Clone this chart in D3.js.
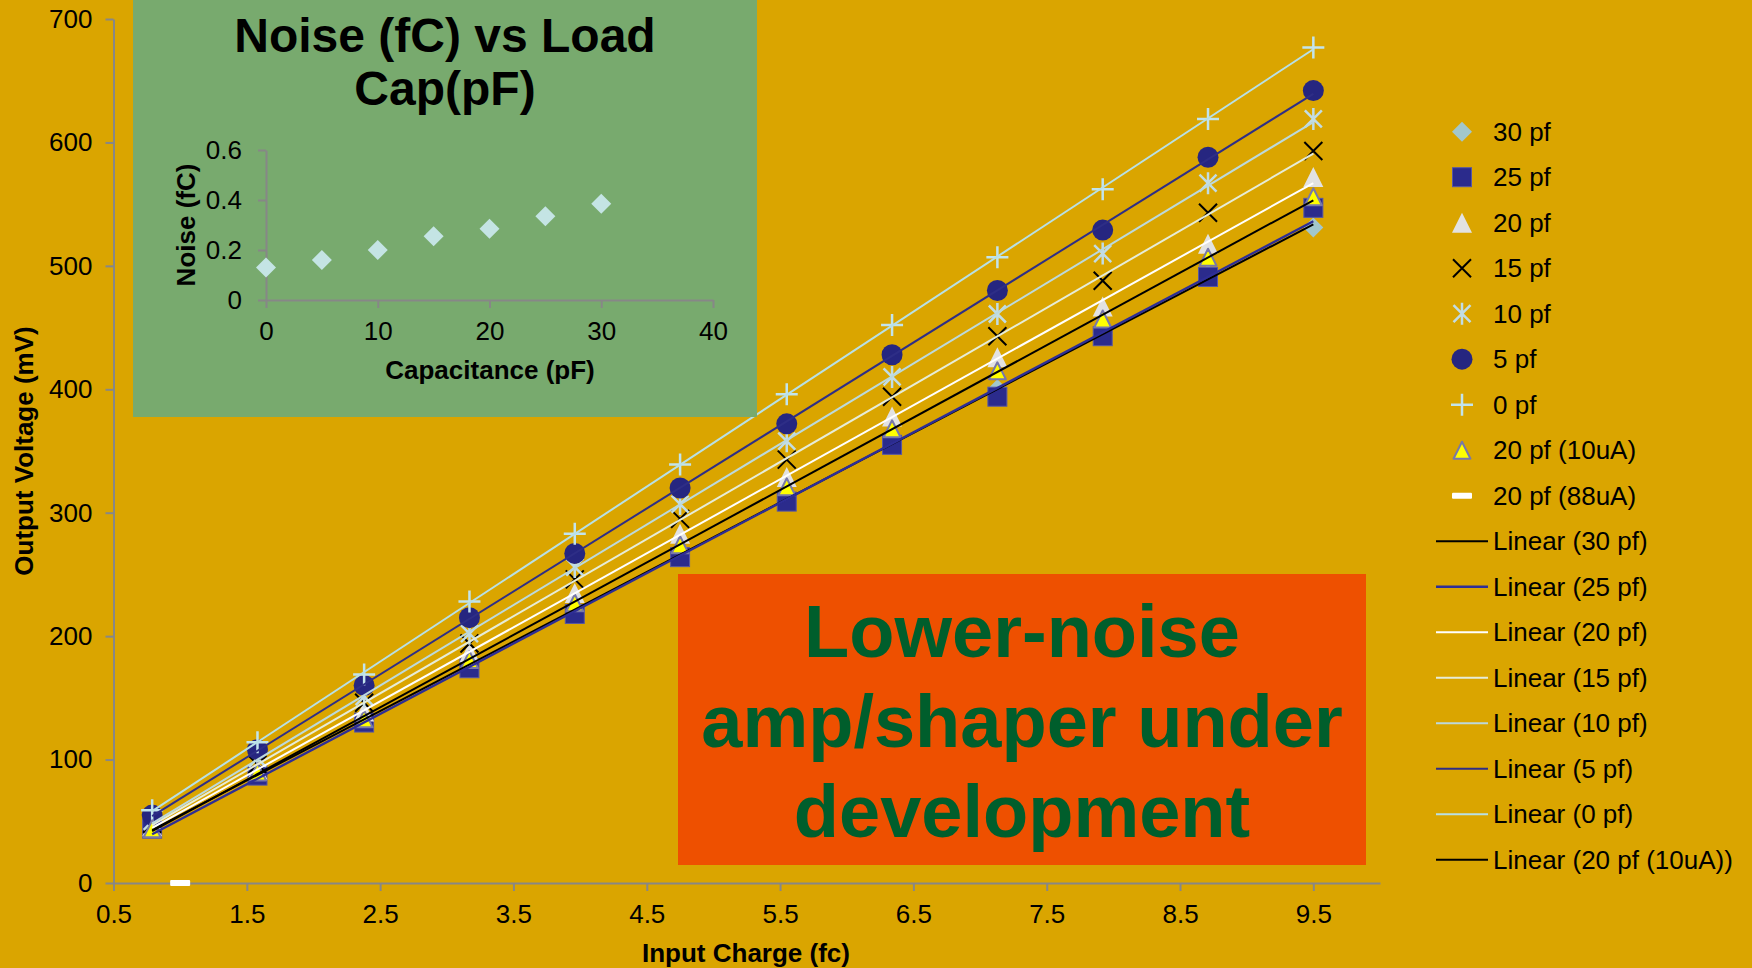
<!DOCTYPE html>
<html>
<head>
<meta charset="utf-8">
<script src="https://cdn.jsdelivr.net/npm/d3@7"></script>
<style>
  html, body { margin: 0; padding: 0; background: #DAA500; }
  svg { display: block; font-family: "Liberation Sans", Arial, Helvetica, sans-serif; }
</style>
</head>
<body>
<svg id="chart" width="1752" height="968"></svg>
<script>
// ---- Data: output voltage (mV) vs input charge (fC) for several load capacitances ----
const charge = [0.79, 1.58, 2.38, 3.17, 3.96, 4.75, 5.55, 6.34, 7.13, 7.92, 8.71, 9.5];
const pf30   = [45, 88, 132, 176, 220, 265, 311, 356, 400, 445, 493, 531];
const pf25   = [44, 87, 130, 174, 218, 264, 309, 355, 394, 443, 491, 547];
const pf20   = [46, 92, 139, 187, 235, 283, 329, 378, 426, 467, 518, 572];
const pf15   = [48, 96, 146, 194, 246, 295, 343, 394, 443, 488, 543, 593];
const pf10   = [50, 101, 151, 202, 256, 307, 358, 410, 461, 510, 567, 619];
const pf5    = [55, 108, 160, 215, 267, 320, 372, 428, 480, 529, 588, 642];
const pf0    = [59, 114, 169, 228, 283, 339, 396, 452, 507, 562, 619, 677];
const pf20lo = [44, 90, 133, 181, 227, 274, 321, 368, 415, 457, 507, 556];
const charge88 = [1.0];
const pf20hi   = [0];

const seriesNames = ["30 pf", "25 pf", "20 pf", "15 pf", "10 pf", "5 pf", "0 pf", "20 pf (10uA)", "20 pf (88uA)"];
const trendNames  = ["Linear (30 pf)", "Linear (25 pf)", "Linear (20 pf)", "Linear (15 pf)",
                     "Linear (10 pf)", "Linear (5 pf)", "Linear (0 pf)", "Linear (20 pf (10uA))"];
const xTicks = [0.5, 1.5, 2.5, 3.5, 4.5, 5.5, 6.5, 7.5, 8.5, 9.5];
const yTicks = [0, 100, 200, 300, 400, 500, 600, 700];

// ---- Inset data: noise (fC) vs load capacitance (pF) ----
const capPF   = [0, 5, 10, 15, 20, 25, 30];
const noiseFC = [0.13, 0.16, 0.20, 0.255, 0.285, 0.335, 0.385];
const insetXTicks = [0, 10, 20, 30, 40];
const insetYTicks = [0, 0.2, 0.4, 0.6];

// ---- Appearance ----
const BG = "#DAA500", AXIS = "#878787";
const markerStyle = [
  { shape: "diamond",  fill: "#A2C7CC" },
  { shape: "square",   fill: "#2B2B8C", stroke: "#5656A6" },
  { shape: "triangle", fill: "#E2E2E2" },
  { shape: "x",        stroke: "#000000" },
  { shape: "star",     stroke: "#C2DDE4" },
  { shape: "circle",   fill: "#262680" },
  { shape: "plus",     stroke: "#C2E4EC" },
  { shape: "triSmall", fill: "#FFFF00", stroke: "#7878A8" },
  { shape: "dash",     fill: "#FFFFFF" }
];
const trendStyle = [
  { color: "#000000", width: 2 },
  { color: "#2E2E96", width: 2.4 },
  { color: "#FFFFFF", width: 2 },
  { color: "#E6ECD8", width: 2 },
  { color: "#BCD9DC", width: 2 },
  { color: "#2E2E86", width: 2 },
  { color: "#B8E0E6", width: 2 },
  { color: "#000000", width: 2 }
];

const svg = d3.select("#chart");
svg.append("rect").attr("width", 1752).attr("height", 968).attr("fill", BG);

const x = d3.scaleLinear().domain([0.5, 10]).range([113.5, 1380]);
const y = d3.scaleLinear().domain([0, 700]).range([883, 19]);

function drawMarker(g, st) {
  switch (st.shape) {
    case "diamond":
      g.append("path").attr("d", "M0,-10L10,0L0,10L-10,0Z").attr("fill", st.fill); break;
    case "square":
      g.append("rect").attr("x", -9.5).attr("y", -9.5).attr("width", 19).attr("height", 19)
        .attr("fill", st.fill).attr("stroke", st.stroke).attr("stroke-width", 1); break;
    case "triangle":
      g.append("path").attr("d", "M0,-10L10,10L-10,10Z").attr("fill", st.fill); break;
    case "triSmall":
      g.append("path").attr("d", "M0,-8.5L8.5,8.5L-8.5,8.5Z").attr("fill", st.fill)
        .attr("stroke", st.stroke).attr("stroke-width", 2).attr("stroke-linejoin", "round"); break;
    case "x":
      g.append("path").attr("d", "M-9,-9L9,9M-9,9L9,-9").attr("stroke", st.stroke)
        .attr("stroke-width", 2).attr("fill", "none"); break;
    case "star":
      g.append("path").attr("d", "M-8.5,-8.5L8.5,8.5M-8.5,8.5L8.5,-8.5M0,-11L0,11").attr("stroke", st.stroke)
        .attr("stroke-width", 2.5).attr("fill", "none"); break;
    case "circle":
      g.append("circle").attr("r", 10.5).attr("fill", st.fill); break;
    case "plus":
      g.append("path").attr("d", "M-11,0L11,0M0,-11L0,11").attr("stroke", st.stroke)
        .attr("stroke-width", 2.5).attr("fill", "none"); break;
    case "dash":
      g.append("rect").attr("x", -10).attr("y", -3).attr("width", 20).attr("height", 6)
        .attr("rx", 1).attr("fill", st.fill); break;
  }
}

// ---- Main axes ----
const gx = svg.append("g").attr("transform", "translate(0,883)")
  .call(d3.axisBottom(x).tickValues(xTicks).tickSize(8).tickSizeOuter(0).tickPadding(14)
        .tickFormat(d3.format(".1f")));
const gy = svg.append("g").attr("transform", "translate(113.5,0)")
  .call(d3.axisLeft(y).tickValues(yTicks).tickSize(8).tickSizeOuter(0).tickPadding(13));
[gx, gy].forEach(g => {
  g.select(".domain").attr("stroke", AXIS).attr("stroke-width", 2);
  g.selectAll(".tick line").attr("stroke", AXIS).attr("stroke-width", 2);
  g.selectAll(".tick text").attr("fill", "#000").style("font-size", "26px")
    .style("font-family", "'Liberation Sans', Arial, sans-serif");
});

svg.append("text").attr("transform", "translate(24,451) rotate(-90)")
  .attr("text-anchor", "middle").attr("dy", "0.35em")
  .style("font-size", "26px").style("font-weight", "bold").text("Output Voltage (mV)");
svg.append("text").attr("x", 746).attr("y", 953)
  .attr("text-anchor", "middle").attr("dy", "0.35em")
  .style("font-size", "26px").style("font-weight", "bold").text("Input Charge (fc)");

// ---- Markers ----
const seriesValues = [pf30, pf25, pf20, pf15, pf10, pf5, pf0, pf20lo, pf20hi];
const seriesX = [charge, charge, charge, charge, charge, charge, charge, charge, charge88];
const plot = svg.append("g");
seriesValues.forEach((vals, i) => {
  vals.forEach((v, j) => {
    const g = plot.append("g").attr("transform", `translate(${x(seriesX[i][j])},${y(v)})`);
    drawMarker(g, markerStyle[i]);
  });
});

// ---- Linear trendlines (least squares) ----
function fit(xs, ys) {
  const mx = d3.mean(xs), my = d3.mean(ys);
  const sxy = d3.sum(xs, (xv, k) => (xv - mx) * (ys[k] - my));
  const sxx = d3.sum(xs, xv => (xv - mx) ** 2);
  const b = sxy / sxx, a = my - b * mx;
  return xv => a + b * xv;
}
const x0 = d3.min(charge), x1 = d3.max(charge);
seriesValues.slice(0, 8).forEach((vals, i) => {
  const f = fit(charge, vals);
  plot.append("line")
    .attr("x1", x(x0)).attr("y1", y(f(x0)))
    .attr("x2", x(x1)).attr("y2", y(f(x1)))
    .attr("stroke", trendStyle[i].color).attr("stroke-width", trendStyle[i].width);
});

// ---- Legend ----
const legend = svg.append("g");
const rowY = i => 131.7 + i * 45.5;
seriesNames.forEach((name, i) => {
  const g = legend.append("g").attr("transform", `translate(1462,${rowY(i)})`);
  drawMarker(g, markerStyle[i]);
  legend.append("text").attr("x", 1493).attr("y", rowY(i)).attr("dy", "0.35em")
    .style("font-size", "26px").text(name);
});
trendNames.forEach((name, k) => {
  const i = k + seriesNames.length;
  legend.append("line").attr("x1", 1436).attr("x2", 1488).attr("y1", rowY(i)).attr("y2", rowY(i))
    .attr("stroke", trendStyle[k].color).attr("stroke-width", trendStyle[k].width);
  legend.append("text").attr("x", 1493).attr("y", rowY(i)).attr("dy", "0.35em")
    .style("font-size", "26px").text(name);
});

// ---- Inset: noise vs load capacitance ----
const inset = svg.append("g");
inset.append("rect").attr("x", 133).attr("y", 0).attr("width", 624).attr("height", 417).attr("fill", "#78AA6E");
inset.append("text").attr("x", 445).attr("y", 52).attr("text-anchor", "middle")
  .style("font-size", "48px").style("font-weight", "bold").text("Noise (fC) vs Load");
inset.append("text").attr("x", 445).attr("y", 105).attr("text-anchor", "middle")
  .style("font-size", "48px").style("font-weight", "bold").text("Cap(pF)");

const xi = d3.scaleLinear().domain([0, 40]).range([266, 713]);
const yi = d3.scaleLinear().domain([0, 0.6]).range([300, 150]);
const gxi = inset.append("g").attr("transform", "translate(0,300)")
  .call(d3.axisBottom(xi).tickValues(insetXTicks).tickSize(8).tickSizeOuter(0).tickPadding(14));
const gyi = inset.append("g").attr("transform", "translate(266,0)")
  .call(d3.axisLeft(yi).tickValues(insetYTicks).tickSize(8).tickSizeOuter(0).tickPadding(16)
        .tickFormat(d => d === 0 ? "0" : d3.format(".1f")(d)));
[gxi, gyi].forEach(g => {
  g.select(".domain").attr("stroke", AXIS).attr("stroke-width", 2);
  g.selectAll(".tick line").attr("stroke", AXIS).attr("stroke-width", 2);
  g.selectAll(".tick text").attr("fill", "#000").style("font-size", "26px")
    .style("font-family", "'Liberation Sans', Arial, sans-serif");
});
inset.selectAll(".noise").data(capPF).enter().append("path")
  .attr("class", "noise")
  .attr("transform", (d, k) => `translate(${xi(d)},${yi(noiseFC[k])})`)
  .attr("d", "M0,-10L10,0L0,10L-10,0Z").attr("fill", "#C4E4E4");
inset.append("text").attr("transform", "translate(186,225) rotate(-90)")
  .attr("text-anchor", "middle").attr("dy", "0.35em")
  .style("font-size", "26px").style("font-weight", "bold").text("Noise (fC)");
inset.append("text").attr("x", 490).attr("y", 370).attr("text-anchor", "middle").attr("dy", "0.35em")
  .style("font-size", "26px").style("font-weight", "bold").text("Capacitance (pF)");

// ---- Status banner ----
const banner = svg.append("g");
banner.append("rect").attr("x", 678).attr("y", 574).attr("width", 688).attr("height", 291).attr("fill", "#EE5000");
["Lower-noise", "amp/shaper under", "development"].forEach((t, k) => {
  banner.append("text").attr("x", 1022).attr("y", 657 + k * 90).attr("text-anchor", "middle")
    .style("font-size", "74px").style("font-weight", "bold").attr("fill", "#005E2C").text(t);
});
</script>
</body>
</html>
